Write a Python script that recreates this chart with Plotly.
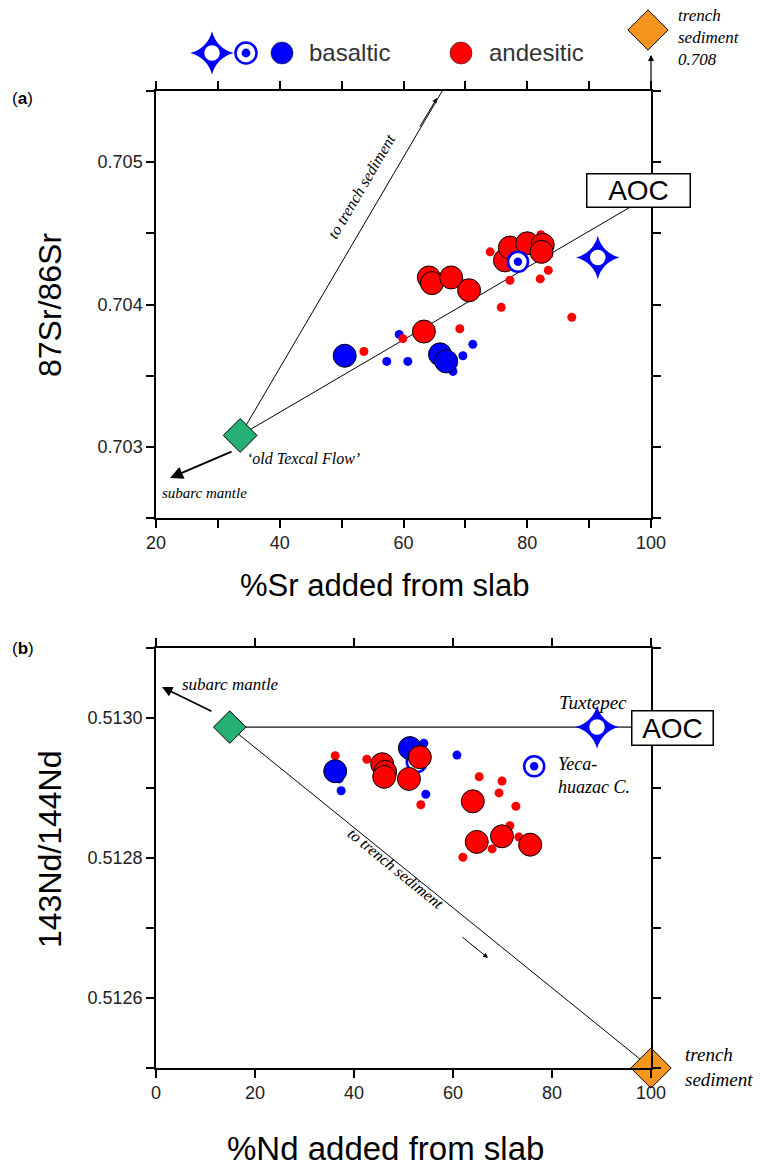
import plotly.graph_objects as go

W, H = 765, 1170

# ---------------- panel (a): 87Sr/86Sr vs % Sr added from slab ----------------
sr_bas_small_x = [59.3, 57.3, 60.7, 68.0, 69.6, 71.2, 69.3]
sr_bas_small_y = [0.70379, 0.70360, 0.70360, 0.70353, 0.70364, 0.70372, 0.70415]
sr_bas_big_x = [50.5, 65.9, 66.9]
sr_bas_big_y = [0.70364, 0.70365, 0.70360]
sr_and_small_x = [53.6, 59.9, 69.1, 75.8, 77.2, 82.1, 83.4, 74.0, 83.5, 87.2, 82.2]
sr_and_small_y = [0.70367, 0.70376, 0.70383, 0.70398, 0.70417, 0.70418, 0.70424,
                  0.70437, 0.70435, 0.70391, 0.70449]
sr_and_big_x = [63.3, 64.1, 64.6, 67.7, 70.6, 76.4, 77.2, 80.0, 82.5, 82.3]
sr_and_big_y = [0.70381, 0.70419, 0.70415, 0.70419, 0.70410, 0.70431, 0.70440,
                0.70443, 0.70442, 0.70437]
sr_yeca_x = [78.5]
sr_yeca_y = [0.70430]
sr_tux_x = [91.4]
sr_tux_y = [0.70433]
sr_texcal = [33.6, 0.70308]        # 'old Texcal Flow'
sr_aoc = [100.0, 0.70477]          # altered oceanic crust end-member
sr_trench = [100.0, 0.708]         # trench sediment end-member (off scale)

sr_xticks = [20, 30, 40, 50, 60, 70, 80, 90, 100]
sr_xticklabels = ["20", "", "40", "", "60", "", "80", "", "100"]
sr_yticks = [0.7025, 0.7030, 0.7035, 0.7040, 0.7045, 0.7050, 0.7055]
sr_yticklabels = ["", "0.703", "", "0.704", "", "0.705", ""]

# ---------------- panel (b): 143Nd/144Nd vs % Nd added from slab ----------------
nd_bas_small_x = [37.0, 37.4, 46.9, 52.3, 54.1, 54.5, 60.8]
nd_bas_small_y = [0.512913, 0.512896, 0.512940, 0.512964, 0.512964, 0.512891, 0.512947]
nd_bas_big_x = [36.2, 51.3]
nd_bas_big_y = [0.512924, 0.512957]
nd_and_small_x = [36.2, 42.6, 53.5, 65.3, 69.9, 69.3, 72.7, 62.0, 67.9, 71.5, 73.3, 74.1, 77.0]
nd_and_small_y = [0.512946, 0.512941, 0.512876, 0.512916, 0.512910, 0.512893, 0.512874,
                  0.512801, 0.512813, 0.512846, 0.512830, 0.512817, 0.512933]
nd_and_big_x = [45.7, 46.3, 46.1, 53.3, 51.1, 64.0, 64.8, 69.9, 75.6]
nd_and_big_y = [0.512934, 0.512923, 0.512916, 0.512944, 0.512913, 0.512881, 0.512823,
                0.512831, 0.512819]
nd_yeca_x = [52.7, 76.4]
nd_yeca_y = [0.512937, 0.512931]
nd_tux_x = [89.1]
nd_tux_y = [0.512987]
nd_texcal = [14.9, 0.512987]
nd_aoc = [100.0, 0.512987]
nd_trench = [100.0, 0.51250]

nd_xticks = [0, 20, 40, 60, 80, 100]
nd_xticklabels = ["0", "20", "40", "60", "80", "100"]
nd_yticks = [0.5125, 0.5126, 0.5127, 0.5128, 0.5129, 0.5130, 0.5131]
nd_yticklabels = ["", "0.5126", "", "0.5128", "", "0.5130", ""]

BLUE = "#0000ff"
RED = "#ff0000"
GREEN = "#27b074"
ORANGE = "#f7941e"
SANS = "Liberation Sans, Arial, sans-serif"
SERIF = "Liberation Serif, Times New Roman, serif"

fig = go.Figure()


def add(tr, xa, ya):
    tr.update(xaxis=xa, yaxis=ya, showlegend=False, hoverinfo="skip")
    fig.add_trace(tr)


def small(x, y, c, xa, ya):
    add(go.Scatter(x=x, y=y, mode="markers",
                   marker=dict(size=9, color=c, line=dict(width=0))), xa, ya)


def big(x, y, c, xa, ya):
    add(go.Scatter(x=x, y=y, mode="markers",
                   marker=dict(size=23, color=c, line=dict(width=1, color="black"))), xa, ya)


def bullseye(x, y, xa, ya, size=20):
    add(go.Scatter(x=x, y=y, mode="markers", cliponaxis=False,
                   marker=dict(size=size, color="white", line=dict(width=2.6, color=BLUE))), xa, ya)
    add(go.Scatter(x=x, y=y, mode="markers", cliponaxis=False,
                   marker=dict(size=size * 0.42, color=BLUE, line=dict(width=0))), xa, ya)


def tux(x, y, xa, ya, size=31):
    add(go.Scatter(x=x, y=y, mode="markers", cliponaxis=False,
                   marker=dict(symbol="star-diamond", size=size, color=BLUE, line=dict(width=0))), xa, ya)
    add(go.Scatter(x=x, y=y, mode="markers", cliponaxis=False,
                   marker=dict(size=size * 0.5, color="white", line=dict(width=0))), xa, ya)


def diamond(x, y, c, xa, ya, size):
    add(go.Scatter(x=x, y=y, mode="markers", cliponaxis=False,
                   marker=dict(symbol="diamond", size=size, color=c, line=dict(width=1, color="black"))), xa, ya)


def seg(p, q, xa, ya, color="black", width=1.0):
    add(go.Scatter(x=[p[0], q[0]], y=[p[1], q[1]], mode="lines",
                   line=dict(color=color, width=width)), xa, ya)


# panel (a)
seg(sr_texcal, sr_aoc, "x", "y")
seg(sr_texcal, sr_trench, "x", "y")
small(sr_bas_small_x, sr_bas_small_y, BLUE, "x", "y")
small(sr_and_small_x, sr_and_small_y, RED, "x", "y")
big(sr_bas_big_x, sr_bas_big_y, BLUE, "x", "y")
big(sr_and_big_x, sr_and_big_y, RED, "x", "y")
bullseye(sr_yeca_x, sr_yeca_y, "x", "y")
tux(sr_tux_x, sr_tux_y, "x", "y")
diamond([sr_texcal[0]], [sr_texcal[1]], GREEN, "x", "y", 26)

# panel (b)
seg(nd_texcal, nd_aoc, "x2", "y2", color="#555555", width=1.6)
seg(nd_texcal, nd_trench, "x2", "y2")
small(nd_bas_small_x, nd_bas_small_y, BLUE, "x2", "y2")
small(nd_and_small_x, nd_and_small_y, RED, "x2", "y2")
bullseye(nd_yeca_x, nd_yeca_y, "x2", "y2")
big(nd_bas_big_x, nd_bas_big_y, BLUE, "x2", "y2")
big(nd_and_big_x, nd_and_big_y, RED, "x2", "y2")
tux(nd_tux_x, nd_tux_y, "x2", "y2")
diamond([nd_texcal[0]], [nd_texcal[1]], GREEN, "x2", "y2", 25)
diamond([nd_trench[0]], [nd_trench[1]], ORANGE, "x2", "y2", 31)

# key row and off-scale sediment marker, laid out on a page-pixel overlay axis
tux([212], [53], "x3", "y3", size=31)
bullseye([246], [53], "x3", "y3", size=21)
add(go.Scatter(x=[282], y=[53], mode="markers",
               marker=dict(size=22, color=BLUE, line=dict(width=0.6, color="#222"))), "x3", "y3")
add(go.Scatter(x=[461], y=[53], mode="markers",
               marker=dict(size=22, color=RED, line=dict(width=0.6, color="#222"))), "x3", "y3")
diamond([648], [30], ORANGE, "x3", "y3", 31)

axis_common = dict(showline=True, linecolor="black", linewidth=1.5, mirror="ticks",
                   ticks="outside", ticklen=8, tickwidth=1.5, tickcolor="black",
                   showgrid=False, zeroline=False, tickmode="array",
                   tickfont=dict(family=SANS, size=18, color="#222"))
XD = [156 / W, 651 / W]
fig.update_layout(
    width=W, height=H, autosize=False, margin=dict(l=0, r=0, t=0, b=0, autoexpand=False),
    paper_bgcolor="white", plot_bgcolor="rgba(0,0,0,0)", showlegend=False,
    xaxis=dict(axis_common, domain=XD, range=[20, 100], anchor="y",
               tickvals=sr_xticks, ticktext=sr_xticklabels),
    yaxis=dict(axis_common, domain=[1 - 518 / H, 1 - 91 / H], range=[0.7025, 0.7055], anchor="x",
               tickvals=sr_yticks, ticktext=sr_yticklabels),
    xaxis2=dict(axis_common, domain=XD, range=[0, 100], anchor="y2",
                tickvals=nd_xticks, ticktext=nd_xticklabels),
    yaxis2=dict(axis_common, domain=[1 - 1068 / H, 1 - 648 / H], range=[0.5125, 0.5131], anchor="x2",
                tickvals=nd_yticks, ticktext=nd_yticklabels),
    xaxis3=dict(domain=[0, 1], range=[0, W], visible=False, anchor="y3", fixedrange=True),
    yaxis3=dict(domain=[0, 1], range=[H, 0], visible=False, anchor="x3", fixedrange=True),
)


def txt(x, y, s, size, family=SANS, color="black", xanchor="center", angle=0, **kw):
    fig.add_annotation(x=x, y=y, xref="x3", yref="y3", text=s, showarrow=False,
                       font=dict(family=family, size=size, color=color),
                       xanchor=xanchor, yanchor="middle", textangle=angle, **kw)


def arrow(head, tail, width=1.0, size=1.0, head_style=2):
    fig.add_annotation(x=head[0], y=head[1], ax=tail[0], ay=tail[1], xref="x3", yref="y3",
                       axref="x3", ayref="y3", text="", showarrow=True, arrowhead=head_style,
                       arrowsize=size, arrowwidth=width, arrowcolor="black")


# key labels
txt(307, 52, "basaltic", 24, color="#333", xanchor="left")
txt(487, 52, "andesitic", 24, color="#333", xanchor="left")
txt(676, 37, "<i>trench<br>sediment<br>%.3f</i>" % sr_trench[1], 17, family=SERIF,
    xanchor="left", align="left")
arrow((651, 55), (651, 90), width=1.2, size=1.0)

# panel letters
txt(10, 98, "(<b>a</b>)", 17, xanchor="left")
txt(10, 648, "(<b>b</b>)", 17, xanchor="left")

# axis titles
txt(50, 305, "87Sr/86Sr", 32, angle=-90)
txt(384, 585, "%Sr added from slab", 31)
txt(50, 850, "143Nd/144Nd", 32, angle=-90)
txt(385, 1148, "%Nd added from slab", 33)

# panel (a) labels
txt(638, 190, "AOC", 28, bordercolor="black", borderwidth=1.5, bgcolor="white",
    borderpad=1, width=100, height=30)
txt(303, 458, "<i>‘old Texcal Flow’</i>", 16, family=SERIF)
txt(204, 493, "<i>subarc mantle</i>", 15, family=SERIF)
arrow((170, 478), (233, 451), width=2.0, size=1.3)
txt(361, 186, "<i>to trench sediment</i>", 16, family=SERIF, angle=-59.6)
arrow((437, 98), (419, 128), width=1.0, size=1.0)

# panel (b) labels
txt(672, 728, "AOC", 28, bordercolor="black", borderwidth=1.5, bgcolor="white",
    borderpad=1, width=78, height=31)
txt(230, 684, "<i>subarc mantle</i>", 17, family=SERIF)
arrow((162, 687), (213, 712), width=1.6, size=1.3)
txt(593, 702, "<i>Tuxtepec</i>", 19, family=SERIF)
txt(556, 775, "<i>Yeca-<br>huazac C.</i>", 18, family=SERIF, xanchor="left", align="left")
txt(396, 868, "<i>to trench sediment</i>", 16, family=SERIF, angle=39.1)
arrow((488, 958), (461, 936), width=1.0, size=1.0)
txt(683, 1067, "<i>trench<br>sediment</i>", 19, family=SERIF, xanchor="left", align="left")

page_css = ("document.documentElement.style.overflow='hidden';"
            "document.body.style.overflow='hidden';document.body.style.margin='0';")
fig.write_html("out.html", config={"responsive": False}, post_script=page_css)
